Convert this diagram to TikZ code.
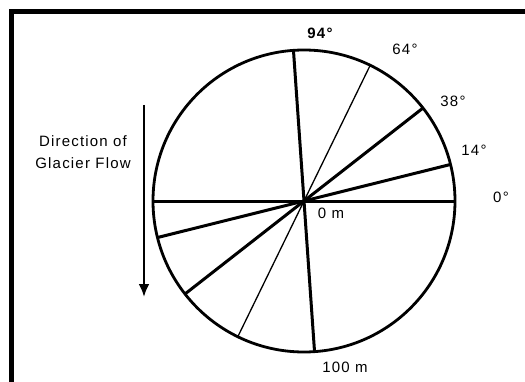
\documentclass[tikz,border=0pt]{standalone}
\usepackage{fontspec}
\setmainfont{Liberation Sans}[LetterSpace=8]
\usetikzlibrary{arrows.meta,calc}
\begin{document}
\begin{tikzpicture}[x=1pt,y=1pt,
  lbl/.style={inner sep=0pt,font=\fontsize{15}{17}\selectfont},
  thickline/.style={line width=3pt},
  thinline/.style={line width=1.3pt},
  rim/.style={line width=2.8pt}]
\useasboundingbox (0,0) rectangle (525,381);
\clip (0,0) rectangle (525,381);
\fill[white] (0,0) rectangle (525,381);
% frame (cut at right and bottom)
\draw[line width=5.5pt] (11.5,-5) -- (11.5,369.5) -- (535,369.5);
% circle
\coordinate (O) at (304,180);
\node[draw,rim,circle,minimum size=302pt,inner sep=0pt] (C) at (O) {};
\foreach \a in {0,14,38,64,94}{
  \coordinate (p\a) at ($(O)+(\a:151)$);
  \coordinate (q\a) at ($(O)+(\a+180:151)$);
}
\draw[thickline] (q0) -- (p0);
\draw[thickline] (q14) -- (p14);
\draw[thickline] (q38) -- (p38);
\draw[thinline] (q64) -- (p64);
\draw[thickline] (q94) -- (p94);
% labels
\node[lbl,font=\fontsize{15}{17}\selectfont\bfseries] (l94) at (320,348) {94°};
\node[lbl] (l64) at (405,332) {64°};
\node[lbl] (l38) at (453,280) {38°};
\node[lbl] (l14) at (474,231) {14°};
\node[lbl] (l0) at (501,184) {0°};
\node[lbl] (l0m) at (331,168) {0 m};
\node[lbl] (l100) at (345,14) {100 m};
\node[lbl] (d1) at (83,240) {Direction of};
\node[lbl] (d2) at (83,218) {Glacier Flow};
% flow arrow
\coordinate (ftop) at (144,276);
\coordinate (fbot) at (144,84);
\draw[line width=2.4pt,-{Latex[length=13pt,width=11pt]}] (ftop) -- (fbot);
\end{tikzpicture}
\end{document}
